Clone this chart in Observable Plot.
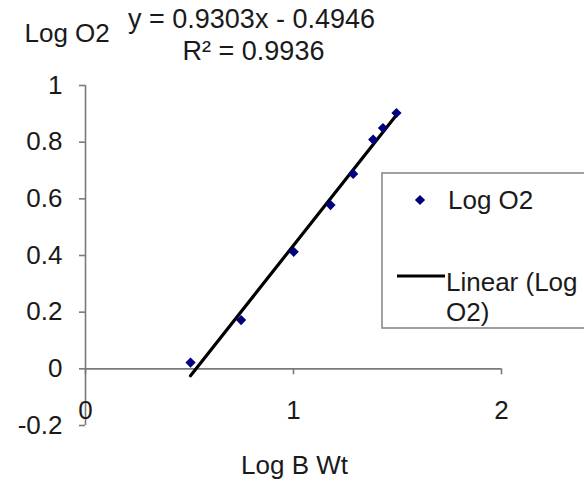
<!DOCTYPE html>
<html>
<head>
<meta charset="utf-8">
<script src="https://cdn.jsdelivr.net/npm/d3@7"></script>
<script src="https://cdn.jsdelivr.net/npm/@observablehq/plot@0.6"></script>
<style>
  html, body { margin: 0; padding: 0; background: #fff; }
  svg { display: block; }
</style>
</head>
<body>
<div id="chart"></div>
<script>
// ---- data ----
const logBWt = [0.505, 0.748, 1.001, 1.178, 1.287, 1.383, 1.430, 1.495];
const logO2  = [0.022, 0.172, 0.413, 0.578, 0.688, 0.809, 0.850, 0.903];
const slope = 0.9303;
const intercept = -0.4946;
const rSquared = "0.9936";
const xTicks = [0, 1, 2];
const yTicks = [-0.2, 0, 0.2, 0.4, 0.6, 0.8, 1];
const seriesName = "Log O2";
const trendName = ["Linear (Log", "O2)"];
const xTitle = "Log B Wt";
const yTitle = "Log O2";

const points = logBWt.map((x, i) => ({x, y: logO2[i]}));
const xExtent = d3.extent(logBWt);
const trend = xExtent.map(x => ({x, y: slope * x + intercept}));
const eqText = `y = ${slope}x - ${Math.abs(intercept)}`;
const r2Text = `R² = ${rSquared}`;

const axisColor = "#7a7a7a";
const dotColor = "#000080";
const FS = 26;
const textColor = "#1a1a1a";

const svg = Plot.plot({
  width: 584,
  height: 481,
  marginLeft: 85,
  marginRight: 83,
  marginTop: 85,
  marginBottom: 56,
  style: {fontFamily: "'Liberation Sans', Arial, sans-serif", fontSize: FS + "px", color: "#000", background: "#fff", overflow: "visible"},
  x: {domain: [0, 2], axis: null},
  y: {domain: [-0.2, 1], axis: null},
  marks: [
    // y axis line and ticks
    Plot.ruleX([0], {y1: -0.2, y2: 1, stroke: axisColor, strokeWidth: 1.6}),
    Plot.axisY(yTicks, {anchor: "left", tickSize: 6, tickPadding: 17, stroke: axisColor, strokeWidth: 1.6,
      tickFormat: d => String(d), fill: textColor, label: null}),
    // x axis line at y = 0, ticks pointing down
    Plot.ruleY([0], {x1: 0, x2: 2, stroke: axisColor, strokeWidth: 1.8}),
    Plot.ruleX(xTicks, {x: d => d, y1: 0, y2: 0, insetBottom: -6, stroke: axisColor, strokeWidth: 1.6}),
    Plot.text(xTicks, {x: d => d, y: -0.2, dy: -15, text: d => String(d), fill: textColor}),
    // axis titles
    Plot.text([xTitle], {frameAnchor: "bottom", lineAnchor: "middle", dx: 1, dy: 40, fill: textColor}),
    Plot.text([yTitle], {frameAnchor: "top-left", lineAnchor: "middle", textAnchor: "start", dx: -61, dy: -52, fill: textColor}),
    // equation
    Plot.text([eqText], {frameAnchor: "top-left", lineAnchor: "middle", textAnchor: "middle", dx: 166, dy: -66, fill: textColor, fontSize: 27}),
    Plot.text([r2Text], {frameAnchor: "top-left", lineAnchor: "middle", textAnchor: "middle", dx: 168, dy: -34, fill: textColor, fontSize: 27}),
    // trendline
    Plot.line(trend, {x: "x", y: "y", stroke: "#000", strokeWidth: 3.2}),
    // data points
    Plot.dot(points, {x: "x", y: "y", symbol: "diamond2", r: 4.6, fill: dotColor, stroke: "none"})
  ]
});

// legend box (clipped by the right edge like the reference)
const g = d3.select(svg).append("g")
  .attr("font-family", "'Liberation Sans', Arial, sans-serif")
  .attr("font-size", FS)
  .attr("text-anchor", "start");
g.append("rect").attr("x", 382).attr("y", 173).attr("width", 240).attr("height", 155)
  .attr("fill", "#fff").attr("stroke", "#8a8a8a").attr("stroke-width", 1.6);
g.append("path").attr("d", d3.symbol(d3.symbolDiamond2, 66)()).attr("transform", "translate(420,200)").attr("fill", dotColor);
g.append("text").attr("x", 448).attr("y", 209).attr("fill", textColor).text(seriesName);
g.append("line").attr("x1", 397).attr("x2", 445).attr("y1", 276).attr("y2", 276).attr("stroke", "#000").attr("stroke-width", 3.2);
g.append("text").attr("x", 446).attr("y", 291).attr("fill", textColor).text(trendName[0]);
g.append("text").attr("x", 446).attr("y", 321).attr("fill", textColor).text(trendName[1]);

document.getElementById("chart").appendChild(svg);
</script>
</body>
</html>
